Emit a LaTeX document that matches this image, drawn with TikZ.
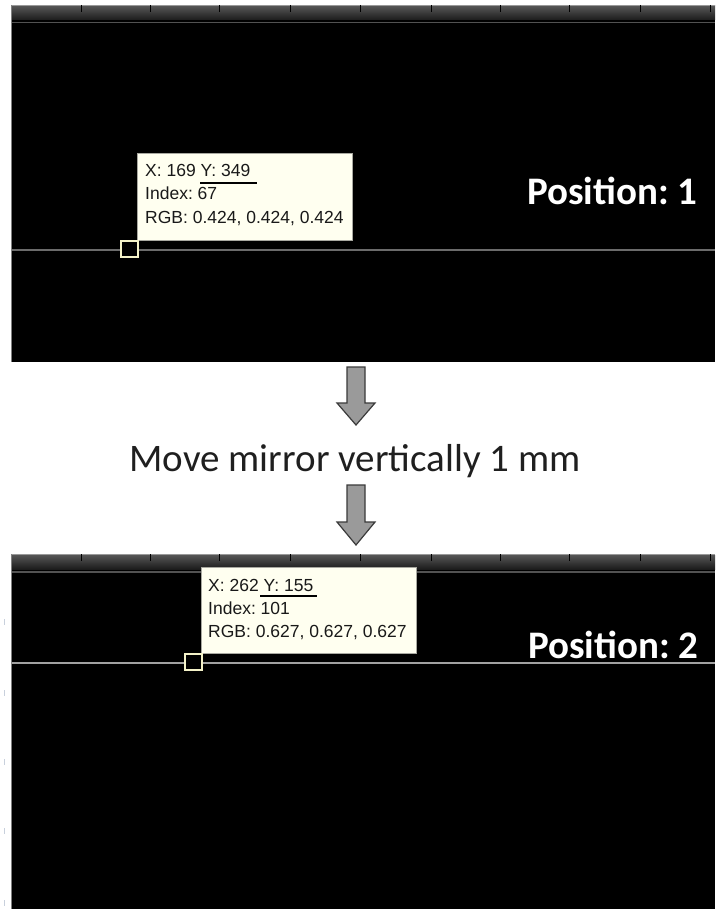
\documentclass[tikz,border=0pt]{standalone}
\usepackage{fontspec}
\setmainfont{Liberation Sans}
\newfontfamily\calib{Carlito}
\frenchspacing
\definecolor{tipfill}{HTML}{FFFFF0}
\definecolor{tipedge}{HTML}{A8A8A0}
\definecolor{sqedge}{HTML}{F4F2C8}
\definecolor{arrfill}{HTML}{9A9A9A}
\definecolor{arredge}{HTML}{3A3A3A}
\definecolor{bandtop}{HTML}{555555}
\definecolor{bandbot}{HTML}{1C1C1C}
\definecolor{marktick}{HTML}{C8D0DC}
\tikzset{
  panel/.style={fill=black, draw=none},
  tiptext/.style={anchor=base west, inner sep=0pt, font=\fontsize{17.5}{19}\selectfont, text=black!90},
  tipbox/.style={fill=tipfill, draw=tipedge, line width=0.8pt},
  marker/.style={draw=sqedge, line width=2.2pt, fill=black},
  postext/.style={anchor=base west, inner sep=0pt, font=\calib\bfseries\fontsize{39}{41}\selectfont, text=white},
  blockarrow/.style={fill=arrfill, draw=arredge, line width=1.2pt, line join=miter},
  bandtick/.style={draw=black, line width=1pt},
  scanline/.style={line width=2.6pt},
}
\begin{document}
\begin{tikzpicture}[x=1pt,y=-1pt]
\useasboundingbox (0,0) rectangle (715,909);
\fill[white] (0,0) rectangle (715,909);

% ---------- top panel ----------
\fill[panel] (11,5) rectangle (715,362);
\shade[top color=bandtop, bottom color=bandbot] (11,6) rectangle (715,20);
\draw[black!40, line width=0.8pt] (11,5.4) -- (715,5.4);
\foreach \x in {81,150,219,290,360,431,500,569,640,710}
  \draw[bandtick] (\x,5) -- (\x,12);
\draw[black!68, line width=1.8pt] (11,22.5) -- (715,22.5);
\draw[scanline, black!58] (11,250) -- (715,250);
\draw[black!50, line width=0.8pt] (11,5) -- (11,362);

\node[tipbox, minimum width=215pt, minimum height=87pt, anchor=north west, inner sep=0pt] (tip1) at (137,153) {};
\node[tiptext] (t1a) at (145,177) {X: 169 Y: 349};
\node[tiptext] (t1b) at (145,200) {Index: 67};
\node[tiptext] (t1c) at (145,223) {RGB: 0.424, 0.424, 0.424};
\draw[black, line width=1.5pt] (200,183) -- (257,183);
\node[marker, minimum width=17pt, minimum height=16pt, inner sep=0pt, anchor=north west] (sq1) at (120,240) {};

\node[postext] (pos1) at (527,205) {Position: 1};

% ---------- arrows and caption ----------
\draw[blockarrow] (347,367) -- (365,367) -- (365,403) -- (375,403) -- (356,425) -- (337,403) -- (347,403) -- cycle;
\node[anchor=base, inner sep=0pt, font=\calib\fontsize{39}{42}\selectfont, text=black!88] (cap) at (355,471) {Move mirror vertically 1 mm};
\draw[blockarrow] (347,485) -- (365,485) -- (365,522) -- (375,522) -- (356,545) -- (337,522) -- (347,522) -- cycle;

% ---------- bottom panel ----------
\fill[panel] (11,554) rectangle (715,909);
\shade[top color=bandtop, bottom color=bandbot] (11,555) rectangle (715,569);
\draw[black!40, line width=0.8pt] (11,554.4) -- (715,554.4);
\foreach \x in {81,150,219,290,360,431,500,569,640,710}
  \draw[bandtick] (\x,554) -- (\x,561);
\draw[black!68, line width=1.8pt] (11,572) -- (715,572);
\draw[scanline, black!37] (11,663) -- (715,663);
\draw[black!50, line width=0.8pt] (11,554) -- (11,909);
\foreach \y in {622,693,762,831,903}
  \draw[marktick, line width=0.8pt] (4,\y-3) -- (4,\y+3);

\node[tipbox, minimum width=215pt, minimum height=86pt, anchor=north west, inner sep=0pt] (tip2) at (201,567) {};
\node[tiptext] (t2a) at (208,591) {X: 262 Y: 155};
\node[tiptext] (t2b) at (208,614) {Index: 101};
\node[tiptext] (t2c) at (208,637) {RGB: 0.627, 0.627, 0.627};
\draw[black, line width=1.5pt] (260,596) -- (317,596);
\node[marker, minimum width=17pt, minimum height=16pt, inner sep=0pt, anchor=north west] (sq2) at (184,653) {};

\node[postext] (pos2) at (528,658) {Position: 2};
\end{tikzpicture}
\end{document}
